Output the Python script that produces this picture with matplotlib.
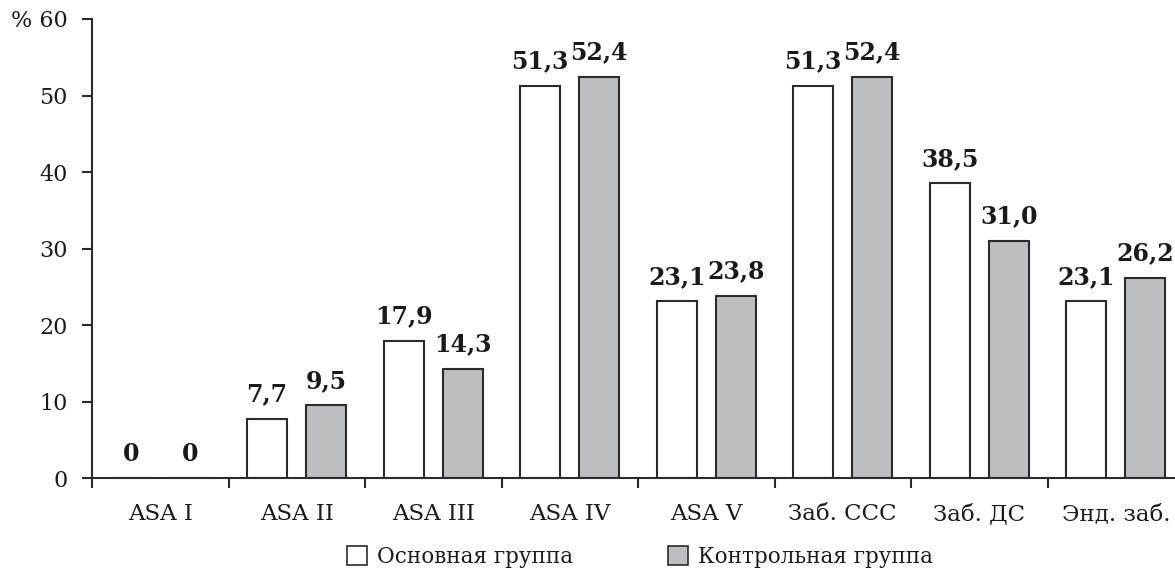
import numpy as np
import matplotlib.pyplot as plt
from matplotlib.patches import Patch

# Доля пациентов по классам ASA и сопутствующим заболеваниям, %
categories = ["ASA I", "ASA II", "ASA III", "ASA IV", "ASA V",
              "Заб. ССС", "Заб. ДС", "Энд. заб."]
main_group = [0, 7.7, 17.9, 51.3, 23.1, 51.3, 38.5, 23.1]
control_group = [0, 9.5, 14.3, 52.4, 23.8, 52.4, 31.0, 26.2]
yticks = [0, 10, 20, 30, 40, 50, 60]
ytick_labels = ["0", "10", "20", "30", "40", "50", "% 60"]
legend_labels = ["Основная группа", "Контрольная группа"]

GRAY = "#bdbec2"
EDGE = "#2b2b2b"
TEXT = "#1a1a1a"

plt.rcParams['font.family'] = ['DejaVu Serif']

fig = plt.figure(figsize=(11.75, 5.74), dpi=100)
ax = fig.add_axes([92 / 1175, 0.1672, 8 * 136.5 / 1175, 0.7997])

x = np.arange(len(categories)) + 0.5
offset = 0.217
width = 0.294

b1 = ax.bar(x - offset, main_group, width, color="white", edgecolor=EDGE, linewidth=1.5)
b2 = ax.bar(x + offset, control_group, width, color=GRAY, edgecolor=EDGE, linewidth=1.5)

def fmt(v):
    if v == 0:
        return "0"
    return f"{v:.1f}".replace(".", ",")

for bars, vals in ((b1, main_group), (b2, control_group)):
    for rect, v in zip(bars, vals):
        ax.annotate(fmt(v), (rect.get_x() + rect.get_width() / 2, v),
                    xytext=(0, 9), textcoords="offset points",
                    ha="center", va="bottom", fontsize=17, fontweight="bold",
                    color=TEXT, annotation_clip=False)

ax.set_xlim(0, len(categories))
ax.set_ylim(0, 60)

for s in ("top", "right"):
    ax.spines[s].set_visible(False)
for s in ("left", "bottom"):
    ax.spines[s].set_color(EDGE)
    ax.spines[s].set_linewidth(1.5)

ax.set_yticks(yticks)
ax.set_yticklabels(ytick_labels, fontsize=16, color=TEXT)
ax.tick_params(axis="y", length=7.5, width=1.5, color=EDGE, pad=10)

# разделительные риски между группами и подписи по центру
ax.set_xticks(np.arange(len(categories)))
ax.set_xticklabels([])
ax.tick_params(axis="x", which="major", length=7.5, width=1.5, color=EDGE)
ax.set_xticks(x, minor=True)
ax.set_xticklabels(categories, minor=True, fontsize=16.5, color=TEXT)
ax.tick_params(axis="x", which="minor", length=0, pad=18)

handles = [Patch(facecolor="white", edgecolor=EDGE, linewidth=1.2),
           Patch(facecolor=GRAY, edgecolor=EDGE, linewidth=1.2)]
fig.legend(handles, legend_labels, loc="center", bbox_to_anchor=(0.545, 0.03),
           ncol=2, frameon=False, fontsize=15.5, handlelength=0.93, handleheight=0.93,
           handletextpad=0.47, columnspacing=4.4, labelcolor=TEXT)

fig.savefig("out.png", dpi=100)
